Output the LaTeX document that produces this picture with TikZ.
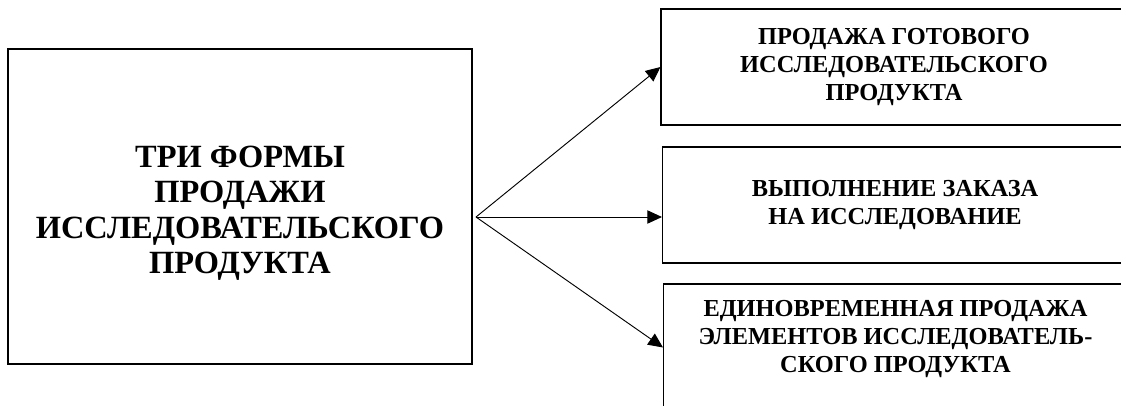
\documentclass[tikz,border=0pt]{standalone}
\usepackage{fontspec}
\setmainfont{Liberation Serif}
\usetikzlibrary{arrows.meta}
\tikzset{
  box/.style={draw, line width=0.8pt, rectangle, align=center},
  bigtext/.style={font=\fontsize{24.3}{26.4}\selectfont\bfseries, align=center},
  smalltext/.style={font=\fontsize{18.3}{21}\selectfont\bfseries, align=center},
  arr/.style={-{Triangle[length=11pt,width=10pt]}, line width=0.7pt}
}
\begin{document}
\begin{tikzpicture}[x=0.75pt,y=-0.75pt]
      \clip (0,0) rectangle (1121,405);

      \node[box, minimum width=348pt, minimum height=236.25pt] (forms) at (240,206.5) {};
      \node[bigtext] (formstext) at ([yshift=-5pt]forms.center)
           {ТРИ ФОРМЫ\\ПРОДАЖИ\\ИССЛЕДОВАТЕЛЬСКОГО\\ПРОДУКТА};

      \node[box, smalltext, minimum width=349.5pt, minimum height=87pt] (sale) at (894,67)
           {ПРОДАЖА ГОТОВОГО\\ИССЛЕДОВАТЕЛЬСКОГО\\ПРОДУКТА};
      \node[box, smalltext, minimum width=348.75pt, minimum height=87pt] (order) at (895,205)
           {ВЫПОЛНЕНИЕ ЗАКАЗА\\НА ИССЛЕДОВАНИЕ};
      \node[box, minimum width=348pt, minimum height=117pt] (parts) at (895.5,362) {};
      \node[smalltext, anchor=north] (partstext) at ([yshift=-9pt]parts.north)
           {ЕДИНОВРЕМЕННАЯ ПРОДАЖА\\ЭЛЕМЕНТОВ ИССЛЕДОВАТЕЛЬ-\\СКОГО ПРОДУКТА};

      \coordinate (hub) at (476,217);
      \draw[arr] (hub) -- (sale.west);
      \draw[arr] (hub) -- (hub -| order.west);
      \draw[arr] (hub) -- ([yshift=-48pt]parts.north west);

\end{tikzpicture}
\end{document}
